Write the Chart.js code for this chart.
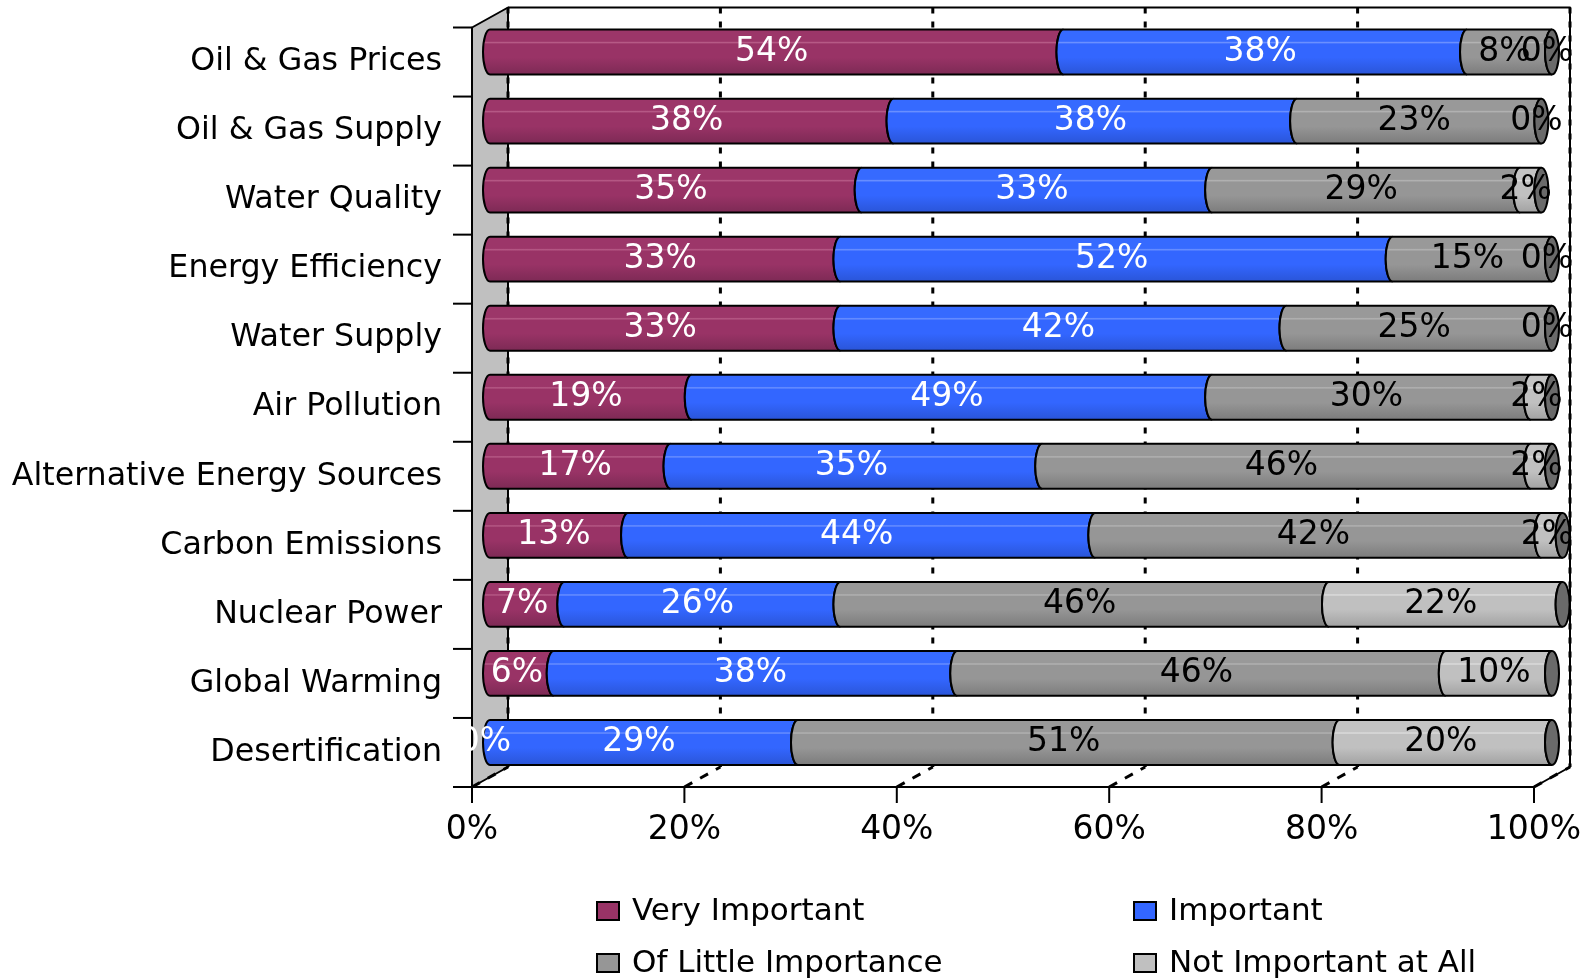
<!DOCTYPE html>
<html lang="en">
<head>
<meta charset="UTF-8">
<meta name="viewport" content="width=device-width, initial-scale=1.0">
<title>Importance of energy and environment issues</title>
<script src="https://cdn.jsdelivr.net/npm/chart.js"></script>
<style>
  html, body { margin: 0; padding: 0; background: #fff; }
  #wrap { width: 1593px; height: 978px; }
</style>
</head>
<body>
<div id="wrap"><canvas id="myChart"></canvas></div>

<script>
const categories = ['Oil & Gas Prices', 'Oil & Gas Supply', 'Water Quality', 'Energy Efficiency',
  'Water Supply', 'Air Pollution', 'Alternative Energy Sources', 'Carbon Emissions',
  'Nuclear Power', 'Global Warming', 'Desertification'];
const veryImportant    = [54, 38, 35, 33, 33, 19, 17, 13, 7, 6, 0];
const important        = [38, 38, 33, 52, 42, 49, 35, 44, 26, 38, 29];
const littleImportance = [8, 23, 29, 15, 25, 30, 46, 42, 46, 46, 51];
const notImportant     = [0, 0, 2, 0, 0, 2, 2, 2, 22, 10, 20];
const seriesNames = ['Very Important', 'Important', 'Of Little Importance', 'Not Important at All'];
const xTicks = [0, 20, 40, 60, 80, 100];

const FONT = 'DejaVu Sans';
// base colour, top band, highlight line, bottom shade, label colour
const palette = [
  { base: '#993366', top: '#9c3669', hi: '#b85c88', bottom: '#7d2a55', text: '#ffffff' },
  { base: '#3366ff', top: '#366aff', hi: '#6f93ff', bottom: '#2a55d8', text: '#ffffff' },
  { base: '#969696', top: '#999999', hi: '#b4b4b4', bottom: '#7c7c7c', text: '#000000' },
  { base: '#c0c0c0', top: '#c4c4c4', hi: '#dedede', bottom: '#a2a2a2', text: '#000000' }
];
const endFace = '#6a6a6a';

// depth of the fake 3D box: bars sit half way back
const DX = 18, DY = 10;
const CAP = 7;

function segPath(ctx, x0, x1, yc, ry) {
  ctx.beginPath();
  ctx.moveTo(x0, yc - ry);
  ctx.lineTo(x1, yc - ry);
  ctx.ellipse(x1, yc, CAP, ry, 0, -Math.PI / 2, Math.PI / 2, true);
  ctx.lineTo(x0, yc + ry);
  ctx.ellipse(x0, yc, CAP, ry, 0, Math.PI / 2, -Math.PI / 2, false);
  ctx.closePath();
}

function barFill(ctx, c, yc, ry) {
  const g = ctx.createLinearGradient(0, yc - ry, 0, yc + ry);
  g.addColorStop(0, c.top);
  g.addColorStop(0.26, c.top);
  g.addColorStop(0.29, c.hi);
  g.addColorStop(0.32, c.base);
  g.addColorStop(0.62, c.base);
  g.addColorStop(1, c.bottom);
  return g;
}

// keep the scales from reserving extra room for overhanging labels
function noPad(s) {
  s.paddingTop = 0; s.paddingBottom = 0; s.paddingLeft = 0; s.paddingRight = 0;
}

const boxPlugin = {
  id: 'box3d',
  beforeDatasetsDraw(chart) {
    const { ctx, chartArea: ca } = chart;
    const xs = chart.scales.x;
    const fl = xs.getPixelForValue(0) - DX, fr = xs.getPixelForValue(100) - DX;
    const ft = ca.top + DY, fb = ca.bottom + DY;
    const bl = fl + 2 * DX, br = fr + 2 * DX, bt = ft - 2 * DY, bb = fb - 2 * DY;
    ctx.save();
    ctx.strokeStyle = '#000';
    ctx.lineJoin = 'round';

    // left side wall
    ctx.beginPath();
    ctx.moveTo(fl, ft); ctx.lineTo(bl, bt); ctx.lineTo(bl, bb); ctx.lineTo(fl, fb); ctx.closePath();
    ctx.fillStyle = '#c0c0c0';
    ctx.fill();
    ctx.lineWidth = 2;
    ctx.stroke();

    // dotted gridlines on back wall and floor
    ctx.lineWidth = 3;
    xTicks.forEach(v => {
      const xb = xs.getPixelForValue(v) + DX;
      ctx.setLineDash([6, 8]);
      ctx.beginPath(); ctx.moveTo(xb, bt); ctx.lineTo(xb, bb); ctx.stroke();
      ctx.setLineDash([9, 9]);
      ctx.beginPath(); ctx.moveTo(xb - 2 * DX, fb); ctx.lineTo(xb, bb); ctx.stroke();
    });
    ctx.setLineDash([]);

    // back wall outline and floor edge
    ctx.lineWidth = 2;
    ctx.beginPath(); ctx.moveTo(bl, bt); ctx.lineTo(br, bt); ctx.lineTo(br, bb); ctx.lineTo(fr, fb); ctx.stroke();

    // front axis line with ticks
    ctx.beginPath(); ctx.moveTo(fl - 19, fb); ctx.lineTo(fr, fb); ctx.stroke();
    xTicks.forEach(v => {
      const xf = xs.getPixelForValue(v) - DX;
      ctx.beginPath(); ctx.moveTo(xf, fb); ctx.lineTo(xf, fb + 16); ctx.stroke();
    });
    const band = (ca.bottom - ca.top) / categories.length;
    for (let k = 0; k <= categories.length; k++) {
      const y = ft + k * band;
      ctx.beginPath(); ctx.moveTo(fl - 19, y); ctx.lineTo(fl, y); ctx.stroke();
    }
    ctx.restore();
  },
  afterDatasetsDraw(chart) {
    const { ctx } = chart;
    const n = chart.data.datasets.length;
    ctx.save();
    ctx.lineWidth = 2;
    ctx.strokeStyle = '#000';
    const labels = [];
    categories.forEach((_, j) => {
      let end = null, yc = 0, ry = 0;
      for (let i = 0; i < n; i++) {
        const el = chart.getDatasetMeta(i).data[j];
        const p = el.getProps(['x', 'y', 'base', 'height'], true);
        const x0 = Math.min(p.base, p.x), x1 = Math.max(p.base, p.x);
        yc = p.y; ry = p.height / 2;
        if (x1 - x0 > 0.5) {
          segPath(ctx, x0, x1, yc, ry);
          ctx.fillStyle = barFill(ctx, palette[i], yc, ry);
          ctx.fill();
          ctx.stroke();
        }
        end = x1;
        labels.push({ text: chart.data.datasets[i].data[j] + '%', x: (x0 + x1) / 2 - 5, y: yc, color: palette[i].text });
      }
      // end face of the cylinder
      ctx.beginPath();
      ctx.ellipse(end, yc, CAP, ry, 0, 0, Math.PI * 2);
      ctx.fillStyle = endFace;
      ctx.fill();
      ctx.stroke();
    });

    ctx.font = '33px "' + FONT + '"';
    ctx.textAlign = 'center';
    ctx.textBaseline = 'middle';
    labels.forEach(l => {
      ctx.fillStyle = l.color;
      ctx.fillText(l.text, l.x, l.y);
    });
    ctx.restore();
  },
  afterDraw(chart) {
    // two-column legend under the axis
    const { ctx } = chart;
    const cols = [597, 1134], rows = [911, 963];
    ctx.save();
    ctx.font = '31px "' + FONT + '"';
    ctx.textBaseline = 'middle';
    ctx.textAlign = 'left';
    chart.data.datasets.forEach((ds, i) => {
      const x = cols[i % 2], y = rows[Math.floor(i / 2)];
      ctx.fillStyle = palette[i].base;
      ctx.fillRect(x, y - 9, 22, 18);
      ctx.lineWidth = 2;
      ctx.strokeStyle = '#000';
      ctx.strokeRect(x, y - 9, 22, 18);
      ctx.fillStyle = '#000';
      ctx.fillText(ds.label, x + 35, y + 1);
    });
    ctx.restore();
  }
};

const seriesData = [veryImportant, important, littleImportance, notImportant];

new Chart(document.getElementById('myChart'), {
  type: 'bar',
  data: {
    labels: categories,
    datasets: seriesData.map((d, i) => ({
      label: seriesNames[i],
      data: d,
      backgroundColor: 'rgba(0,0,0,0)',
      borderWidth: 0,
      categoryPercentage: 1,
      barPercentage: 0.65
    }))
  },
  options: {
    indexAxis: 'y',
    responsive: true,
    maintainAspectRatio: false,
    animation: false,
    layout: { padding: { top: 17.5, right: 41, bottom: 0, left: 0 } },
    plugins: {
      legend: { display: false },
      tooltip: { enabled: false }
    },
    scales: {
      x: {
        stacked: true,
        min: 0,
        max: 100,
        grid: { display: false },
        border: { display: false },
        afterBuildTicks: s => { s.ticks = xTicks.map(v => ({ value: v })); },
        afterFit: s => { s.height = 201; noPad(s); },
        ticks: {
          callback: v => v + '%',
          font: { family: FONT, size: 33 },
          color: '#000',
          padding: 26,
          labelOffset: -DX,
          maxRotation: 0,
          autoSkip: false
        }
      },
      y: {
        stacked: true,
        grid: { display: false },
        border: { display: false },
        afterFit: s => { s.width = 490; noPad(s); },
        ticks: {
          font: { family: FONT, size: 31.7 },
          color: '#000',
          padding: 40,
          labelOffset: DY,
          autoSkip: false
        }
      }
    }
  },
  plugins: [boxPlugin]
});
</script>
</body>
</html>
